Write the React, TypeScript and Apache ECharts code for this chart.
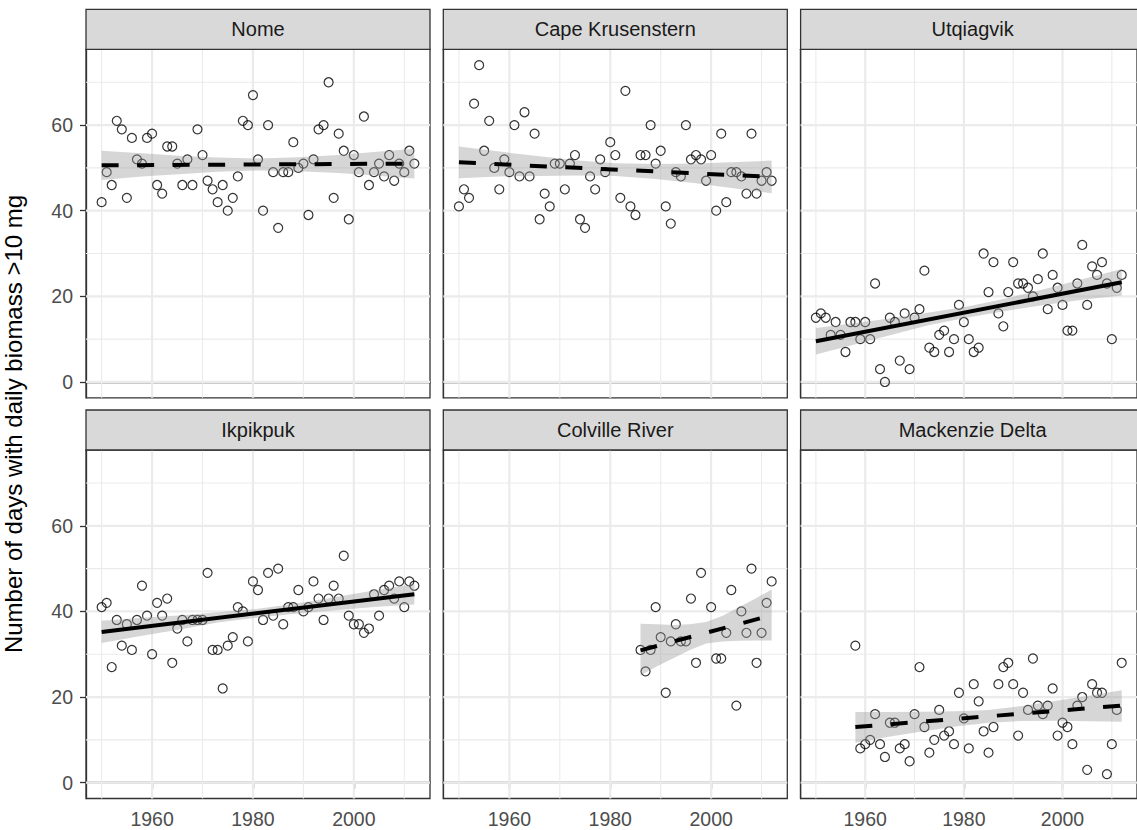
import { useEffect, useRef } from "react";
import * as echarts from "echarts";

// ---------- data ----------
const panelNames = ["Nome", "Cape Krusenstern", "Utqiagvik", "Ikpikpuk", "Colville River", "Mackenzie Delta"];

const years1950to2012 = [
  1950, 1951, 1952, 1953, 1954, 1955, 1956, 1957, 1958, 1959,
  1960, 1961, 1962, 1963, 1964, 1965, 1966, 1967, 1968, 1969,
  1970, 1971, 1972, 1973, 1974, 1975, 1976, 1977, 1978, 1979,
  1980, 1981, 1982, 1983, 1984, 1985, 1986, 1987, 1988, 1989,
  1990, 1991, 1992, 1993, 1994, 1995, 1996, 1997, 1998, 1999,
  2000, 2001, 2002, 2003, 2004, 2005, 2006, 2007, 2008, 2009,
  2010, 2011, 2012,
];
const colvilleYears = [
  1986, 1987, 1988, 1989, 1990, 1991, 1992, 1993, 1994, 1995, 1996, 1997, 1998,
  2000, 2001, 2002, 2003, 2004, 2005, 2006, 2007, 2008, 2009, 2010, 2011, 2012,
];
const mackenzieYears = [
  1958, 1959,
  1960, 1961, 1962, 1963, 1964, 1965, 1966, 1967, 1968, 1969,
  1970, 1971, 1972, 1973, 1974, 1975, 1976, 1977, 1978, 1979,
  1980, 1981, 1982, 1983, 1984, 1985, 1986, 1987, 1988, 1989,
  1990, 1991, 1992, 1993, 1994, 1995, 1996, 1997, 1998, 1999,
  2000, 2001, 2002, 2003, 2004, 2005, 2006, 2007, 2008, 2009,
  2010, 2011, 2012,
];

const nomeDays = [
  42, 49, 46, 61, 59, 43, 57, 52, 51, 57,
  58, 46, 44, 55, 55, 51, 46, 52, 46, 59,
  53, 47, 45, 42, 46, 40, 43, 48, 61, 60,
  67, 52, 40, 60, 49, 36, 49, 49, 56, 50,
  51, 39, 52, 59, 60, 70, 43, 58, 54, 38,
  53, 49, 62, 46, 49, 51, 48, 53, 47, 51,
  49, 54, 51,
];
const capeKrusensternDays = [
  41, 45, 43, 65, 74, 54, 61, 50, 45, 52,
  49, 60, 48, 63, 48, 58, 38, 44, 41, 51,
  51, 45, 51, 53, 38, 36, 48, 45, 52, 49,
  56, 53, 43, 68, 41, 39, 53, 53, 60, 51,
  54, 41, 37, 49, 48, 60, 52, 53, 52, 47,
  53, 40, 58, 42, 49, 49, 48, 44, 58, 44,
  47, 49, 47,
];
const utqiagvikDays = [
  15, 16, 15, 11, 14, 11, 7, 14, 14, 10,
  14, 10, 23, 3, 0, 15, 14, 5, 16, 3,
  15, 17, 26, 8, 7, 11, 12, 7, 10, 18,
  14, 10, 7, 8, 30, 21, 28, 16, 13, 21,
  28, 23, 23, 22, 20, 24, 30, 17, 25, 22,
  18, 12, 12, 23, 32, 18, 27, 25, 28, 23,
  10, 22, 25,
];
const ikpikpukDays = [
  41, 42, 27, 38, 32, 37, 31, 38, 46, 39,
  30, 42, 39, 43, 28, 36, 38, 33, 38, 38,
  38, 49, 31, 31, 22, 32, 34, 41, 40, 33,
  47, 45, 38, 49, 39, 50, 37, 41, 41, 45,
  40, 41, 47, 43, 38, 43, 46, 43, 53, 39,
  37, 37, 35, 36, 44, 39, 45, 46, 43, 47,
  41, 47, 46,
];
const colvilleDays = [
  31, 26, 31, 41, 34, 21, 33, 37, 33, 33, 43, 28, 49,
  41, 29, 29, 35, 45, 18, 40, 35, 50, 28, 35, 42, 47,
];
const mackenzieDays = [
  32, 8,
  9, 10, 16, 9, 6, 14, 14, 8, 9, 5,
  16, 27, 13, 7, 10, 17, 11, 12, 9, 21,
  15, 8, 23, 19, 12, 7, 13, 23, 27, 28,
  23, 11, 21, 17, 29, 18, 16, 18, 22, 11,
  14, 13, 9, 18, 20, 3, 23, 21, 21, 2,
  9, 17, 28,
];

// fitted trend lines and confidence bands
const nomeFitYears = [1950, 2012];
const nomeFitValues = [50.6, 51.0];
const nomeBandYears = [1950, 1958, 1966, 1973, 1981, 1989, 1997, 2004, 2012];
const nomeBandLow = [47.2, 48.0, 48.6, 49.1, 49.4, 49.2, 48.8, 48.2, 47.5];
const nomeBandHigh = [54.0, 53.4, 52.8, 52.4, 52.2, 52.5, 53.0, 53.7, 54.5];

const capeFitYears = [1950, 2012];
const capeFitValues = [51.3, 47.9];
const capeBandYears = [1950, 1958, 1966, 1973, 1981, 1989, 1997, 2004, 2012];
const capeBandLow = [47.6, 48.0, 48.1, 48.2, 48.1, 47.4, 46.4, 45.3, 44.1];
const capeBandHigh = [55.0, 53.8, 52.7, 51.8, 51.1, 50.9, 51.0, 51.3, 51.7];

const utqFitYears = [1950, 2012];
const utqFitValues = [9.5, 23.3];
const utqBandYears = [1950, 1958, 1966, 1973, 1981, 1989, 1997, 2004, 2012];
const utqBandLow = [6.4, 8.8, 11.2, 13.3, 15.1, 16.7, 18.1, 19.2, 20.2];
const utqBandHigh = [12.6, 13.8, 15.0, 16.2, 17.7, 19.6, 21.9, 24.0, 26.4];

const ikpFitYears = [1950, 2012];
const ikpFitValues = [35.2, 44.0];
const ikpBandYears = [1950, 1958, 1966, 1973, 1981, 1989, 1997, 2004, 2012];
const ikpBandLow = [32.6, 34.3, 35.9, 37.4, 38.6, 39.5, 40.3, 41.0, 41.6];
const ikpBandHigh = [37.8, 38.5, 39.1, 39.8, 40.6, 41.9, 43.5, 44.9, 46.4];

const colFitYears = [1986, 2012];
const colFitValues = [30.9, 39.1];
const colBandYears = [1986, 1989.3, 1992.5, 1995.8, 1999, 2002.3, 2005.5, 2008.8, 2012];
const colBandLow = [25.1, 27.2, 29.05, 31.0, 32.5, 33.0, 33.15, 33.2, 33.2];
const colBandHigh = [37.1, 37.0, 36.85, 37.0, 37.5, 39.0, 40.95, 43.0, 45.1];

const macFitYears = [1958, 2012];
const macFitValues = [13.0, 18.0];
const macBandYears = [1958, 1964.8, 1971.5, 1978.3, 1985, 1991.8, 1998.5, 2005.3, 2012];
const macBandLow = [9.3, 10.7, 11.95, 13.1, 14.0, 14.4, 14.45, 14.35, 14.2];
const macBandHigh = [16.5, 16.5, 16.55, 16.7, 17.0, 17.9, 19.05, 20.3, 21.6];

const fitIsDashed = [true, true, false, false, true, true];

const xTickLabels = [1960, 1980, 2000];
const xMinorGrid = [1950, 1970, 1990, 2010];
const yTickLabels = [0, 20, 40, 60];
const yMinorGrid = [10, 30, 50, 70];

const yAxisTitle = "Number of days with daily biomass >10 mg";

// ---------- layout / style ----------
const X_MIN = 1946.9;
const X_MAX = 2015.1;
const Y_MIN = -3.7;
const Y_MAX = 77.7;
const COL_LEFT = [86, 443.3, 800.6];
const ROW_TOP = [49.3, 450];
const PANEL_W = 344;
const PANEL_H = 348.5;
const STRIP_H = 40;
const FONT = '"Liberation Sans", Arial, Helvetica, sans-serif';

const panels = [
  { years: years1950to2012, values: nomeDays, fx: nomeFitYears, fy: nomeFitValues, bx: nomeBandYears, bl: nomeBandLow, bh: nomeBandHigh },
  { years: years1950to2012, values: capeKrusensternDays, fx: capeFitYears, fy: capeFitValues, bx: capeBandYears, bl: capeBandLow, bh: capeBandHigh },
  { years: years1950to2012, values: utqiagvikDays, fx: utqFitYears, fy: utqFitValues, bx: utqBandYears, bl: utqBandLow, bh: utqBandHigh },
  { years: years1950to2012, values: ikpikpukDays, fx: ikpFitYears, fy: ikpFitValues, bx: ikpBandYears, bl: ikpBandLow, bh: ikpBandHigh },
  { years: colvilleYears, values: colvilleDays, fx: colFitYears, fy: colFitValues, bx: colBandYears, bl: colBandLow, bh: colBandHigh },
  { years: mackenzieYears, values: mackenzieDays, fx: macFitYears, fy: macFitValues, bx: macBandYears, bl: macBandLow, bh: macBandHigh },
];

function gridLineData(xs: number[], ys: number[]) {
  const out: any[] = [];
  xs.forEach((x) => {
    out.push([x, Y_MIN], [x, Y_MAX], ["-", "-"]);
  });
  ys.forEach((y) => {
    out.push([X_MIN, y], [X_MAX, y], ["-", "-"]);
  });
  return out;
}

const plainNumber = (v: number) => String(v);

function buildOption() {
  const grid: any[] = [];
  const xAxis: any[] = [];
  const yAxis: any[] = [];
  const series: any[] = [];
  const graphic: any[] = [];

  panels.forEach((p, i) => {
    const row = Math.floor(i / 3);
    const col = i % 3;
    const left = COL_LEFT[col];
    const top = ROW_TOP[row];

    grid.push({
      left,
      top,
      width: PANEL_W,
      height: PANEL_H,
      show: true,
      backgroundColor: "transparent",
      borderColor: "#333333",
      borderWidth: 1.3,
      containLabel: false,
    });

    const showX = row === 1;
    const showY = col === 0;

    xAxis.push({
      type: "value",
      gridIndex: i,
      min: X_MIN,
      max: X_MAX,
      splitLine: { show: false },
      axisLine: { show: true, lineStyle: { color: "#333333", width: 1.3 } },
      axisTick: {
        show: showX,
        length: 6,
        customValues: xTickLabels,
        lineStyle: { color: "#333333", width: 1.3 },
      },
      axisLabel: {
        show: showX,
        customValues: xTickLabels,
        formatter: plainNumber,
        color: "#4d4d4d",
        fontSize: 19.5,
        fontFamily: FONT,
        margin: 10,
      },
    });
    yAxis.push({
      type: "value",
      gridIndex: i,
      min: Y_MIN,
      max: Y_MAX,
      splitLine: { show: false },
      axisLine: { show: true, lineStyle: { color: "#333333", width: 1.3 } },
      axisTick: {
        show: showY,
        length: 6,
        customValues: yTickLabels,
        lineStyle: { color: "#333333", width: 1.3 },
      },
      axisLabel: {
        show: showY,
        customValues: yTickLabels,
        formatter: plainNumber,
        color: "#4d4d4d",
        fontSize: 19.5,
        fontFamily: FONT,
        margin: 13,
      },
    });

    // grid lines
    series.push({
      type: "line",
      xAxisIndex: i,
      yAxisIndex: i,
      data: gridLineData(xMinorGrid, yMinorGrid),
      symbol: "none",
      silent: true,
      connectNulls: false,
      lineStyle: { color: "#ebebeb", width: 1.1 },
      z: 0,
    });
    series.push({
      type: "line",
      xAxisIndex: i,
      yAxisIndex: i,
      data: gridLineData(xTickLabels, yTickLabels),
      symbol: "none",
      silent: true,
      connectNulls: false,
      lineStyle: { color: "#ebebeb", width: 2.2 },
      z: 0,
    });

    // observations
    series.push({
      type: "scatter",
      xAxisIndex: i,
      yAxisIndex: i,
      data: p.years.map((y, k) => [y, p.values[k]]),
      symbol: "circle",
      symbolSize: 9,
      itemStyle: { color: "rgba(0,0,0,0)", borderColor: "#000000", borderWidth: 1.2 },
      silent: true,
      z: 2,
    });

    // confidence band as a polygon through the axes' scales
    series.push({
      type: "custom",
      xAxisIndex: i,
      yAxisIndex: i,
      data: [[p.bx[0], p.bl[0]]],
      silent: true,
      clip: true,
      z: 3,
      renderItem: (_params: any, api: any) => {
        const upper = p.bx.map((x, k) => api.coord([x, p.bh[k]]));
        const lower = p.bx.map((x, k) => api.coord([x, p.bl[k]])).reverse();
        return {
          type: "polygon",
          shape: { points: upper.concat(lower) },
          style: { fill: "rgba(153,153,153,0.4)" },
        };
      },
    });

    // fitted line
    series.push({
      type: "line",
      xAxisIndex: i,
      yAxisIndex: i,
      data: p.fx.map((x, k) => [x, p.fy[k]]),
      symbol: "none",
      silent: true,
      lineStyle: {
        color: "#000000",
        width: 4,
        type: fitIsDashed[i] ? [17, 18.5] : "solid",
        cap: "butt",
      },
      z: 4,
    });

    // strip
    graphic.push({
      type: "rect",
      shape: { x: left, y: top - STRIP_H, width: PANEL_W, height: STRIP_H },
      style: { fill: "#d9d9d9", stroke: "#333333", lineWidth: 1.3 },
      z: 10,
    });
    graphic.push({
      type: "text",
      x: left + PANEL_W / 2,
      y: top - STRIP_H / 2,
      style: {
        text: panelNames[i],
        fill: "#1a1a1a",
        fontSize: 20,
        fontFamily: FONT,
        align: "center",
        verticalAlign: "middle",
      },
      z: 11,
    });
  });

  graphic.push({
    type: "text",
    x: 13,
    y: 424,
    rotation: Math.PI / 2,
    style: {
      text: yAxisTitle,
      fill: "#000000",
      fontSize: 24,
      fontFamily: FONT,
      align: "center",
      verticalAlign: "middle",
    },
    z: 11,
  });

  return {
    animation: false,
    backgroundColor: "#ffffff",
    grid,
    xAxis,
    yAxis,
    series,
    graphic,
  };
}

export default function App() {
  const ref = useRef<HTMLDivElement>(null);
  useEffect(() => {
    if (!ref.current) return;
    const chart = echarts.init(ref.current, undefined, { renderer: "svg" });
    chart.setOption(buildOption() as any);
    return () => {
      chart.dispose();
    };
  }, []);
  return (
    <div
      ref={ref}
      style={{ position: "fixed", left: 0, top: 0, width: 1137, height: 830, background: "#fff" }}
    />
  );
}
